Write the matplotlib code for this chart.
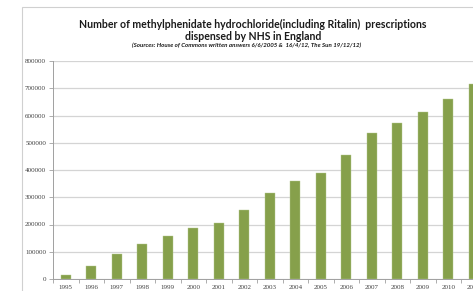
import matplotlib
matplotlib.use("Agg")
import matplotlib.pyplot as plt
from matplotlib.patches import Rectangle

years = ["1995", "1996", "1997", "1998", "1999", "2000", "2001", "2002", "2003",
         "2004", "2005", "2006", "2007", "2008", "2009", "2010", "2011"]
prescriptions = [16000, 49000, 91000, 127000, 158000, 186000, 207000, 252000, 314000,
                 358000, 389000, 455000, 536000, 574000, 612000, 662000, 714000]
y_ticks = [0, 100000, 200000, 300000, 400000, 500000, 600000, 700000, 800000]

title1 = "Number of methylphenidate hydrochloride(including Ritalin)  prescriptions"
title2 = "dispensed by NHS in England"
subtitle = "(Sources: House of Commons written answers 6/6/2005 &  16/4/12, The Sun 19/12/12)"

W, H = 473, 291
fig = plt.figure(figsize=(W / 100, H / 100), dpi=100)
fig.patch.set_facecolor("white")

# outer frame (cut off at right and bottom)
fig.patches.append(Rectangle((22 / W, -0.2), 2.0, 1 - 7 / H + 0.2, transform=fig.transFigure,
                             fill=False, edgecolor="#d0d0d0", linewidth=0.8))

left = 53 / W
bottom = 1 - 279 / H
top = 1 - 61 / H
slot = 25.5 / W
ax = fig.add_axes([left, bottom, slot * len(years), top - bottom])

x = list(range(len(years)))
ax.bar(x, prescriptions, width=0.4, color="#86a04b", edgecolor="#b5c98f", linewidth=0.3, zorder=3)

ax.set_xlim(-0.5, len(years) - 0.5)
ax.set_ylim(0, 800000)
ax.set_yticks(y_ticks)
ax.set_yticklabels([str(v) for v in y_ticks])
ax.set_xticks(x)
ax.set_xticklabels(years)
ax.set_xticks([i - 0.5 for i in range(len(years) + 1)], minor=True)
ax.tick_params(axis="x", which="major", length=0, labelsize=5.0, labelcolor="#404040", pad=4)
ax.tick_params(axis="x", which="minor", length=3, color="#a0a0a0", width=0.6)
ax.tick_params(axis="y", length=3, color="#a0a0a0", width=0.6, labelsize=5.0,
               labelcolor="#404040", pad=2)
for lab in ax.get_xticklabels() + ax.get_yticklabels():
    lab.set_fontfamily("Liberation Serif")

ax.grid(axis="y", color="#d4d4d4", linewidth=0.9, zorder=0)
ax.set_axisbelow(True)
for s in ["top", "right"]:
    ax.spines[s].set_visible(False)
ax.spines["left"].set_color("#a0a0a0")
ax.spines["bottom"].set_color("#a0a0a0")
ax.spines["left"].set_linewidth(0.7)
ax.spines["bottom"].set_linewidth(0.7)

fig.text(253 / W, 1 - 24 / H, title1, ha="center", va="center", fontsize=7.6,
         fontweight="bold", family="Lato", color="#1a1a1a")
fig.text(253 / W, 1 - 37 / H, title2, ha="center", va="center", fontsize=7.6,
         fontweight="bold", family="Lato", color="#1a1a1a")
fig.text(247 / W, 1 - 45 / H, subtitle, ha="center", va="center", fontsize=4.4,
         fontweight="bold", style="italic", family="Lato", color="#1a1a1a")

fig.savefig("out.png", dpi=100)
